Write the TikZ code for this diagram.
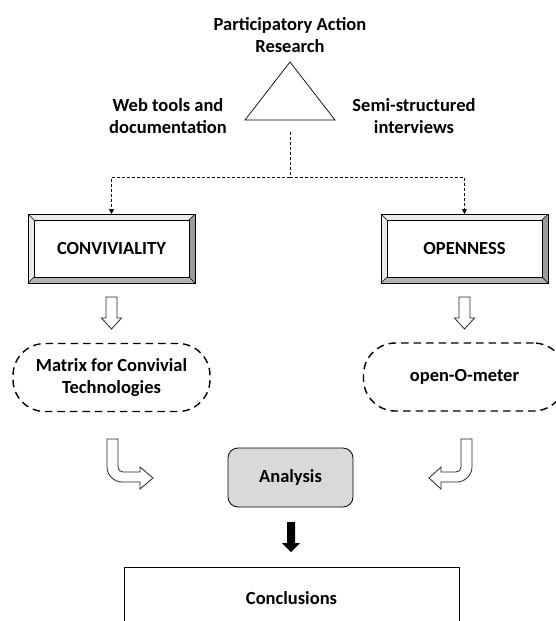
\documentclass[tikz,border=0pt]{standalone}
\usepackage{fontspec}
\setmainfont{Carlito}
\usetikzlibrary{arrows.meta,calc}
\definecolor{bevlight}{HTML}{EAEAEA}
\definecolor{bevdark}{HTML}{9C9C9C}
\definecolor{bevmid}{HTML}{B4B4B4}
\newcommand\mybevel[1]{%
  \fill[bevlight] (#1.north west) -- (#1.north east) -- ([shift={(-6pt,-6pt)}]#1.north east) -- ([shift={(6pt,-6pt)}]#1.north west) -- cycle;
  \fill[bevlight] (#1.north west) -- (#1.south west) -- ([shift={(6pt,6pt)}]#1.south west) -- ([shift={(6pt,-6pt)}]#1.north west) -- cycle;
  \fill[bevdark] (#1.north east) -- (#1.south east) -- ([shift={(-6pt,6pt)}]#1.south east) -- ([shift={(-6pt,-6pt)}]#1.north east) -- cycle;
  \fill[bevmid] (#1.south west) -- (#1.south east) -- ([shift={(-6pt,6pt)}]#1.south east) -- ([shift={(6pt,6pt)}]#1.south west) -- cycle;
  \draw[line width=0.9pt] (#1.north west) rectangle (#1.south east);
  \draw[line width=0.6pt] ([shift={(6pt,-6pt)}]#1.north west) rectangle ([shift={(-6pt,6pt)}]#1.south east);
  \draw[line width=0.5pt] (#1.north west) -- ++(6pt,-6pt) (#1.north east) -- ++(-6pt,-6pt)
    (#1.south west) -- ++(6pt,6pt) (#1.south east) -- ++(-6pt,6pt);
}
\begin{document}
\begin{tikzpicture}[x=1pt,y=-1pt,
  font=\fontsize{18.5}{22}\selectfont\bfseries,
  lbl/.style={align=center, inner sep=0pt},
  bevelnode/.style={minimum width=167pt, minimum height=69pt, inner sep=0pt, outer sep=0pt},
  dashbox/.style={draw, dash pattern=on 7.5pt off 5pt, line width=1.4pt, rounded corners=32pt,
    minimum height=68pt, align=center, inner sep=0pt, outer sep=0pt},
  hollow/.style={draw=black!85, fill=white, line width=0.8pt, line join=miter},
  dconn/.style={dash pattern=on 3pt off 2pt, line width=0.6pt, -{Triangle[length=5pt,width=5pt]}}
]
\useasboundingbox (0,0) rectangle (555,621);

% top
\node[lbl] (par) at (290,35) {Participatory Action\\Research};
\coordinate (apex) at (290,62);
\coordinate (bl) at (245,120);
\coordinate (br) at (335,120);
\draw[line width=0.7pt] (apex) -- (br) -- (bl) -- cycle;
\node[lbl] (web) at (168,116) {Web tools and\\documentation};
\node[lbl] (semi) at (414,116) {Semi-structured\\interviews};

% boxes
\node[bevelnode] (conv) at (111.5,248.5) {};
\node[bevelnode] (open) at (464.5,248.5) {};
\mybevel{conv}
\mybevel{open}
\node at (conv) {CONVIVIALITY};
\node at (open) {OPENNESS};

% dashed connectors
\coordinate (trifoot) at (290,132);
\coordinate (split) at (290,177);
\draw[dash pattern=on 3pt off 2pt, line width=0.6pt] (trifoot) -- (split);
\draw[dconn] (split) -| (conv.north);
\draw[dconn] (split) -| (open.north);

% hollow down arrows
\foreach \cx in {111.5,464.5}{
  \draw[hollow,shift={(\cx,297)}] (-5.5,0) -- (5.5,0) -- (5.5,21) -- (10,21) -- (0,32) -- (-10,21) -- (-5.5,21) -- cycle;
}

% dashed rounded boxes
\node[dashbox, minimum width=197pt] (matrix) at (111.5,377.5) {Matrix for Convivial\\Technologies};
\node[dashbox, minimum width=202pt] (meter) at (464.5,377) {open-O-meter};

% analysis
\node[draw, line width=0.8pt, fill=gray!30, rounded corners=10pt, minimum width=125pt, minimum height=59pt, inner sep=0pt] (ana) at (290.5,477.5) {Analysis};

% bent arrows
\draw[hollow] (107,439) -- (118,439) -- (118,467) .. controls (118,470) and (120,472) .. (123,472)
  -- (140,472) -- (140,467) -- (153,478) -- (140,489) -- (140,482) -- (122,482)
  .. controls (114,482) and (107,475) .. (107,467) -- cycle;
\draw[hollow] (472,439) -- (461,439) -- (461,467) .. controls (461,470) and (459,472) .. (456,472)
  -- (441,472) -- (441,467) -- (429,478) -- (441,489) -- (441,482) -- (457,482)
  .. controls (465,482) and (472,475) .. (472,467) -- cycle;

% black arrow
\fill[shift={(291,522)}] (-4,0) -- (4,0) -- (4,21) -- (9,21) -- (0,30) -- (-9,21) -- (-4,21) -- cycle;

% conclusions
\node[draw, line width=1pt, minimum width=335pt, minimum height=62pt, inner sep=0pt] (conc) at (291.5,598) {Conclusions};
\end{tikzpicture}
\end{document}
